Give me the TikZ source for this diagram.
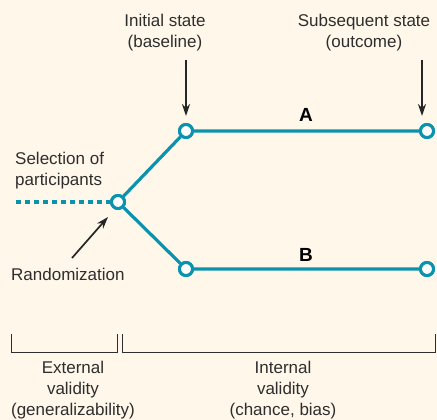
\documentclass[tikz,border=0pt]{standalone}
\usepackage{fontspec}
\setmainfont{Liberation Sans}
\usetikzlibrary{arrows.meta}
\definecolor{bg}{HTML}{FFF7EA}
\definecolor{teal}{HTML}{0A93AE}
\definecolor{txt}{HTML}{2E2E2E}
\tikzset{
  pt/.style={circle,draw=teal,fill=white,line width=3pt,minimum size=13pt,inner sep=0pt},
  path/.style={draw=teal,line width=3.2pt},
  lbl/.style={text=txt,font=\fontsize{17}{21}\selectfont,align=center,inner sep=0pt},
  letter/.style={text=black,font=\fontsize{19}{19}\selectfont\bfseries,inner sep=0pt},
  arr/.style={draw=black!85,line width=1.7pt,-{Stealth[length=12pt,width=8pt]}},
  brk/.style={draw=txt,line width=0.8pt},
}
\begin{document}
\begin{tikzpicture}[x=1pt,y=-1pt]
\fill[bg] (0,0) rectangle (437,420);
\useasboundingbox (0,0) rectangle (437,420);
% nodes
\node[pt] (r) at (118,202) {};
\node[pt] (a1) at (186,131) {};
\node[pt] (a2) at (427,131) {};
\node[pt] (b1) at (186,269) {};
\node[pt] (b2) at (427,269) {};
\coordinate (s) at (16,202);
% connectors
\draw[draw=teal,line width=4.5pt,dash pattern=on 5pt off 4pt] (s) -- (r.west);
\draw[path] (r) -- (a1) (a1) -- (a2) (r) -- (b1) (b1) -- (b2);
\node[pt] at (r) {};
\node[pt] at (a1) {};
\node[pt] at (a2) {};
\node[pt] at (b1) {};
\node[pt] at (b2) {};
% labels
\node[letter] (la) at (306,115) {A};
\node[letter] (lb) at (306,255) {B};
\node[lbl] (init) at (165,33) {Initial state\\(baseline)};
\node[lbl] (subs) at (364,33) {Subsequent state\\(outcome)};
\node[lbl,align=left,anchor=west] (sel) at (15,171) {Selection of\\participants};
\node[lbl,anchor=west] (rand) at (11,274) {Randomization};
% arrows
\coordinate (ia) at (186,60);
\coordinate (sa) at (422,60);
\coordinate (ib) at (186,116);
\coordinate (sb) at (422,116);
\draw[arr] (ia) -- (ib);
\draw[arr] (sa) -- (sb);
\coordinate (ra) at (72,258);
\coordinate (rb) at (108,217);
\draw[arr] (ra) -- (rb);
% brackets
\draw[brk] (11,334) -- (11,352) -- (117,352) -- (117,334);
\draw[brk] (122,334) -- (122,352) -- (435,352) -- (435,334);
\node[lbl] (ext) at (73,390) {External\\validity\\(generalizability)};
\node[lbl] (int) at (283,390) {Internal\\validity\\(chance, bias)};
\end{tikzpicture}
\end{document}
